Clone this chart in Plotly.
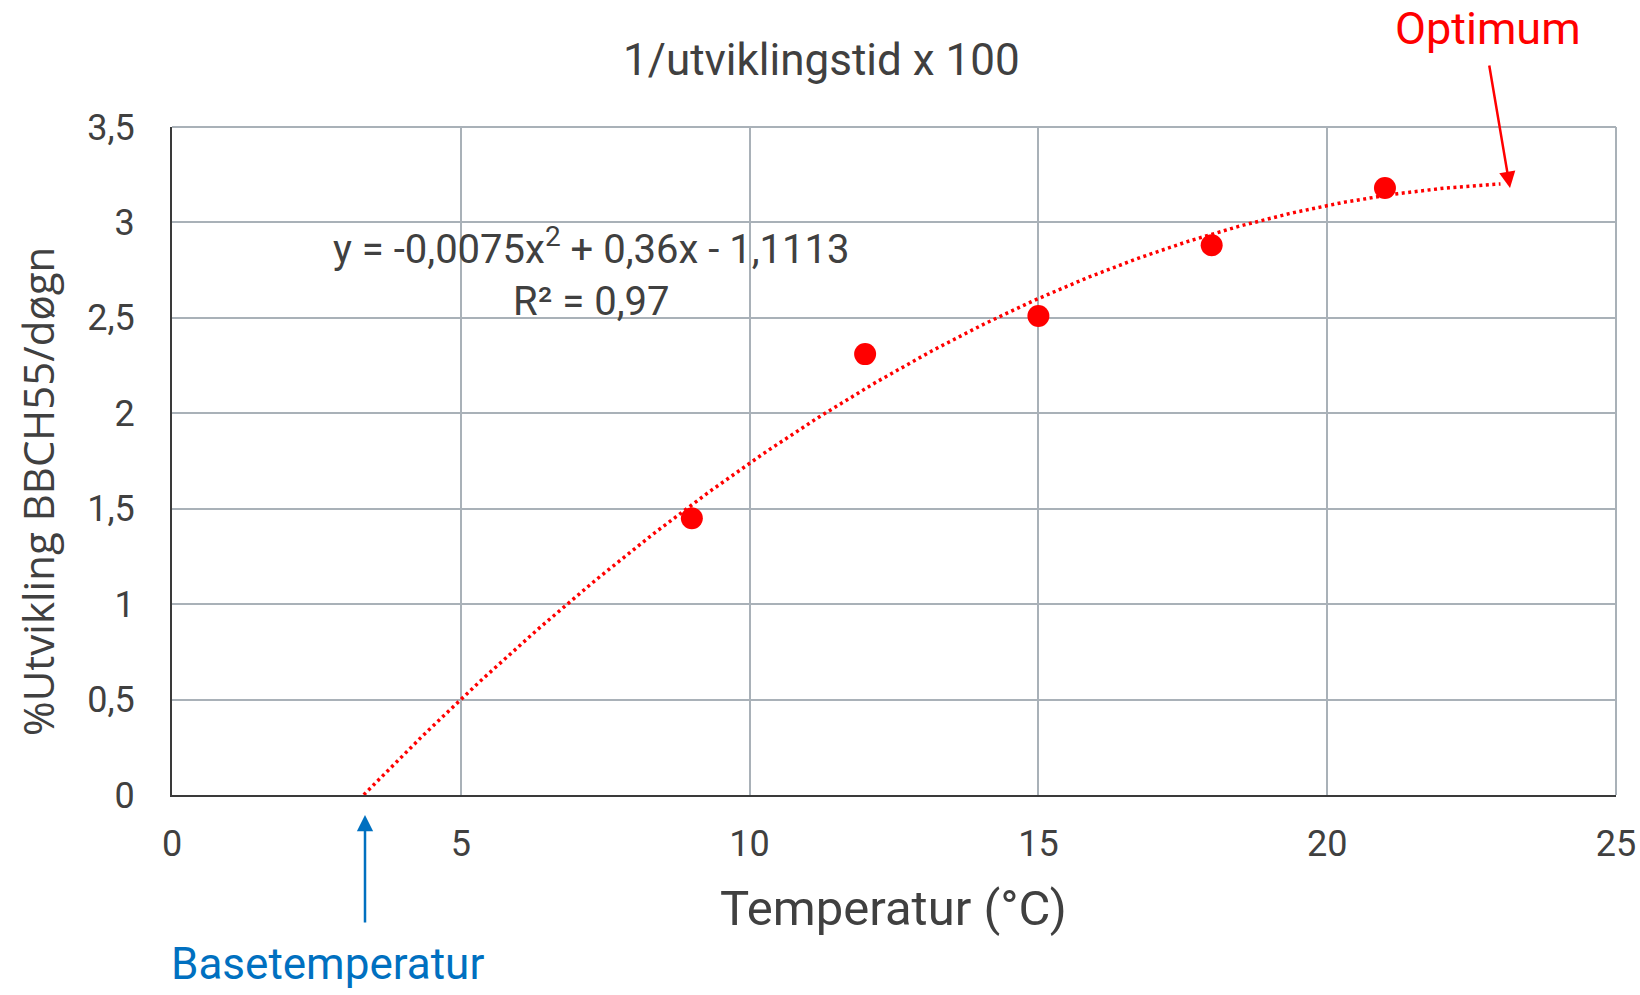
import numpy as np
import plotly.graph_objects as go

# Data
temperatures = [9, 12, 15, 18, 21]
development_rate = [1.45, 2.31, 2.51, 2.88, 3.18]

# Polynomial trendline (as printed on the chart): a*x^2 + b*x + c
trend_coeffs = [-0.0075, 0.36, -1.1113]
trend_x_start = 3.32
trend_x_end = 23.0

x_ticks = [0, 5, 10, 15, 20, 25]
y_ticks = [0, 0.5, 1, 1.5, 2, 2.5, 3, 3.5]

title_text = "1/utviklingstid x 100"
x_title = "Temperatur (°C)"
y_title = "%Utvikling BBCH55/døgn"
equation_text = "y = -0,0075x<sup>2</sup> + 0,36x - 1,1113<br>R² = 0,97"

FONT = "Roboto, sans-serif"
TXT = "#404040"
GRID = "#A9B1B8"

tx = np.linspace(trend_x_start, trend_x_end, 200)
ty = np.polyval(trend_coeffs, tx)

fig = go.Figure()
fig.add_trace(go.Scatter(x=tx, y=ty, mode="lines",
                         line=dict(color="#FF0000", width=3.5, dash="3px,3.5px"),
                         hoverinfo="skip", showlegend=False))
fig.add_trace(go.Scatter(x=temperatures, y=development_rate, mode="markers",
                         marker=dict(color="#FF0000", size=22),
                         showlegend=False))

fig.update_layout(
    width=1640, height=995,
    margin=dict(l=172, r=24, t=127, b=200),
    paper_bgcolor="white", plot_bgcolor="white",
    separators=", ",
    font=dict(family=FONT, color=TXT, size=36),
    showlegend=False,
)
fig.update_xaxes(range=[0, 25], tickvals=x_ticks, showgrid=True, gridcolor=GRID, gridwidth=2,
                 zeroline=False, showline=True, linecolor="#3A3A3A", linewidth=2,
                 ticks="", ticklabelstandoff=16, automargin=False,
                 tickfont=dict(family=FONT, size=36, color=TXT))
fig.update_yaxes(range=[0, 3.5], tickvals=y_ticks, showgrid=True, gridcolor=GRID, gridwidth=2,
                 zeroline=False, showline=True, linecolor="#3A3A3A", linewidth=2,
                 ticks="", ticklabelstandoff=28, automargin=False,
                 tickfont=dict(family=FONT, size=36, color=TXT))

# top and right borders (gray, like gridlines)
fig.add_shape(type="line", xref="paper", yref="paper", x0=0, x1=1, y0=1, y1=1,
              line=dict(color=GRID, width=2))
fig.add_shape(type="line", xref="paper", yref="paper", x0=1, x1=1, y0=0, y1=1,
              line=dict(color=GRID, width=2))

# helpers: page pixel -> paper fraction
def pxx(px):
    return (px - 172) / 1444

def pxy(py):
    return (795 - py) / 668

annotations = [
    dict(text=title_text, x=pxx(821), y=pxy(60), font=dict(size=44, color=TXT, family=FONT)),
    dict(text=x_title, x=pxx(893), y=pxy(908), font=dict(size=49, color=TXT, family=FONT)),
    dict(text=y_title, x=pxx(38), y=pxy(492), textangle=-90,
         font=dict(size=42, color=TXT, family="Open Sans, sans-serif")),
    dict(text=equation_text, x=pxx(591), y=pxy(272), font=dict(size=40, color=TXT, family=FONT)),
    dict(text="Optimum", x=pxx(1488), y=pxy(28), font=dict(size=45, color="#FF0000", family=FONT)),
    dict(text="Basetemperatur", x=pxx(327), y=pxy(964), font=dict(size=44, color="#0070C0", family=FONT)),
]
for a in annotations:
    a.update(xref="paper", yref="paper", showarrow=False, xanchor="center", yanchor="middle")
    fig.add_annotation(**a)

# Arrows (offsets in pixels from head to tail)
fig.add_annotation(xref="paper", yref="paper", x=pxx(1510), y=pxy(188),
                   ax=-21, ay=-124, axref="pixel", ayref="pixel",
                   text="", showarrow=True, arrowhead=2, arrowsize=1.3, arrowwidth=2.5,
                   arrowcolor="#FF0000")
fig.add_annotation(xref="paper", yref="paper", x=pxx(365), y=pxy(815),
                   ax=0, ay=109, axref="pixel", ayref="pixel",
                   text="", showarrow=True, arrowhead=2, arrowsize=1.3, arrowwidth=2.5,
                   arrowcolor="#0070C0")

post_js = (
    "document.documentElement.style.overflow='hidden';"
    "document.body.style.margin='0';document.body.style.overflow='hidden';"
    "var d=document.getElementsByClassName('plotly-graph-div');"
    "for(var i=0;i<d.length;i++){d[i].style.overflow='hidden';}"
)
fig.write_html("out.html", config={"displayModeBar": False}, post_script=post_js)
